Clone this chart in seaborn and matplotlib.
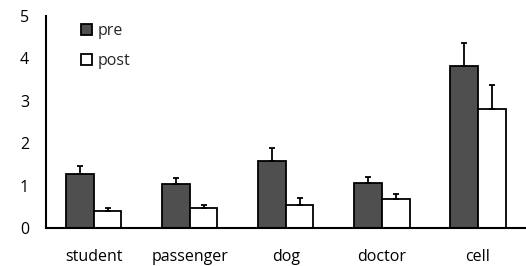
import matplotlib
matplotlib.use("Agg")
import matplotlib.pyplot as plt
import seaborn as sns
import pandas as pd
import numpy as np
from matplotlib.patches import Patch

categories = ["student", "passenger", "dog", "doctor", "cell"]
pre_values = [1.27, 1.03, 1.59, 1.05, 3.82]
post_values = [0.40, 0.46, 0.53, 0.68, 2.81]
pre_err = [0.20, 0.16, 0.30, 0.16, 0.54]
post_err = [0.08, 0.07, 0.18, 0.11, 0.56]
series = ["pre", "post"]
y_ticks = [0, 1, 2, 3, 4, 5]

sns.set_style("white")
plt.rcParams["font.family"] = ["Open Sans", "DejaVu Sans"]
FS = 11.5

df = pd.DataFrame({
    "category": categories * 2,
    "value": pre_values + post_values,
    "err": pre_err + post_err,
    "series": ["pre"] * len(categories) + ["post"] * len(categories),
})

fig = plt.figure(figsize=(5.26, 2.66), dpi=100)
ax = fig.add_axes([0.087, 0.143, 0.913, 0.797])

sns.barplot(data=df, x="category", y="value", hue="series", hue_order=series,
            order=categories, palette={"pre": "#4f4f4f", "post": "#ffffff"},
            width=0.575, errorbar=None, edgecolor="black", linewidth=1.3,
            ax=ax, legend=False)

# error bars (upward only) at bar positions given by the library
for container, s in zip(ax.containers, series):
    errs = df[df["series"] == s]["err"].values
    xs = [p.get_x() + p.get_width() / 2 for p in container.patches]
    ys = [p.get_height() for p in container.patches]
    ax.errorbar(xs, ys, yerr=[np.zeros(len(errs)), errs], fmt="none",
                ecolor="black", elinewidth=1.3, capsize=2.2, capthick=1.3, zorder=1)

ax.set_xlim(-0.5, 4.5)
ax.set_ylim(0, 5)
ax.set_yticks(y_ticks)
ax.set_xlabel("")
ax.set_ylabel("")
for sp in ["top", "right"]:
    ax.spines[sp].set_visible(False)
for sp in ["left", "bottom"]:
    ax.spines[sp].set_color("black")
    ax.spines[sp].set_linewidth(1.5)
ax.tick_params(axis="y", direction="in", length=3, width=1.3, pad=12, labelsize=FS, colors="black")
ax.tick_params(axis="x", length=0, pad=15, labelsize=FS, colors="black")

handles = [Patch(facecolor="#4f4f4f", edgecolor="black", linewidth=1.3, label="pre"),
           Patch(facecolor="#ffffff", edgecolor="black", linewidth=1.3, label="post")]
ax.legend(handles=handles, loc="upper left", bbox_to_anchor=(0.053, 1.01), frameon=False,
          fontsize=FS, handlelength=0.7, handleheight=0.7, handletextpad=0.35,
          labelspacing=0.85, borderaxespad=0.2)

fig.savefig("out.png", dpi=100)
